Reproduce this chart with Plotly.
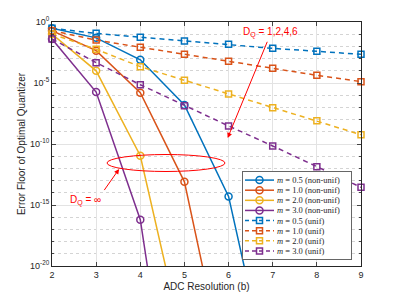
import plotly.graph_objects as go

# ---- data (log10 of error floor) ----
bits = [2, 3, 4, 5, 6, 7, 8, 9]
nonunif_m05 = [-0.52, -1.3, -3.1, -6.8, -14.3, -30.5]
nonunif_m10 = [-0.71, -2.35, -5.8, -13.1, -30.0]
nonunif_m20 = [-0.98, -4.0, -10.96, -26.8]
nonunif_m30 = [-1.39, -5.74, -16.2, -40.0]
unif_m05 = [-0.52, -0.93, -1.25, -1.56, -1.83, -2.16, -2.4, -2.65]
unif_m10 = [-0.71, -1.48, -2.07, -2.65, -3.22, -3.8, -4.37, -4.89]
unif_m20 = [-0.98, -2.24, -3.66, -4.78, -5.9, -7.02, -8.1, -9.24]
unif_m30 = [-1.39, -3.33, -5.14, -6.86, -8.52, -10.16, -11.86, -13.55]
m_labels = ["0.5", "1.0", "2.0", "3.0"]
colors = ["#0072BD", "#D95319", "#EDB120", "#7E2F8E"]
y_tick_exps = [0, -5, -10, -15, -20]
x_ticks = [2, 3, 4, 5, 6, 7, 8, 9]

nonunif = [nonunif_m05, nonunif_m10, nonunif_m20, nonunif_m30]
unif = [unif_m05, unif_m10, unif_m20, unif_m30]

DASH = "5px,4px"
TXT = "#262626"
RED = "#FF0000"

# page has an 8px body margin; target plot area in page pixels: x 52..361, y 22..266
OFF = 8
W, H = 399 - OFF, 299 - OFF
PL, PR, PT, PB = 52, 361, 22, 266
L, R, T, B = PL - OFF, (W + OFF) - PR, PT - OFF, (H + OFF) - PB
pw, ph = PR - PL, PB - PT


def px_to_paper_x(px):
    return (px - PL) / pw


def px_to_paper_y(py):
    return (PB - py) / ph


fig = go.Figure()
for vals, c in zip(nonunif, colors):
    fig.add_trace(go.Scatter(
        x=bits[:len(vals)], y=[10 ** v for v in vals], mode="lines+markers",
        line=dict(color=c, width=1.5), cliponaxis=False,
        marker=dict(symbol="circle-open", size=7, color=c, line=dict(width=1.5)),
        showlegend=False, xaxis="x", yaxis="y"))
for vals, c in zip(unif, colors):
    fig.add_trace(go.Scatter(
        x=bits[:len(vals)], y=[10 ** v for v in vals], mode="lines+markers",
        line=dict(color=c, width=1.5, dash=DASH), cliponaxis=False,
        marker=dict(symbol="square-open", size=6, color=c, line=dict(width=1.5)),
        showlegend=False, xaxis="x", yaxis="y"))

# ---- compact legend drawn in an inset axes (MATLAB-style box) ----
rows = 8
for i in range(rows):
    c = colors[i % 4]
    yy = rows - 1 - i
    if i < 4:
        line = dict(color=c, width=1.5)
        marker = dict(symbol="circle-open", size=7, color=c, line=dict(width=1.5))
        label = "<i>m</i> = %s (non-unif)" % m_labels[i % 4]
    else:
        line = dict(color=c, width=1.5, dash="4px,3px")
        marker = dict(symbol="square-open", size=6, color=c, line=dict(width=1.5))
        label = "<i>m</i> = %s (unif)" % m_labels[i % 4]
    fig.add_trace(go.Scatter(x=[2, 31], y=[yy, yy], mode="lines", line=line,
                             showlegend=False, xaxis="x2", yaxis="y2", hoverinfo="skip"))
    fig.add_trace(go.Scatter(x=[16.5], y=[yy], mode="markers", marker=marker,
                             showlegend=False, xaxis="x2", yaxis="y2", hoverinfo="skip"))
    fig.add_annotation(x=32, y=yy, xref="x2", yref="y2", text=label,
                       showarrow=False, xanchor="left", yanchor="middle",
                       font=dict(family="Liberation Serif", size=8.5, color=TXT))

fig.update_layout(
    width=W, height=H,
    margin=dict(l=L, r=R, t=T, b=B, autoexpand=False),
    paper_bgcolor="white", plot_bgcolor="white",
    font=dict(family="Liberation Sans", size=9, color=TXT),
    xaxis=dict(range=[2, 9], tickvals=x_ticks, ticks="inside", ticklen=4,
               showline=True, linecolor=TXT, linewidth=1, mirror="ticks",
               showgrid=True, gridcolor="#e3e3e3", gridwidth=1, zeroline=False,
               tickfont=dict(size=9, color=TXT),
               title=dict(text="ADC Resolution (b)", font=dict(size=10, color=TXT),
                          standoff=4),
               domain=[0, 1]),
    yaxis=dict(type="log", range=[-20, 0],
               tickvals=[10 ** e for e in y_tick_exps],
               ticktext=["10<sup>%d</sup>" % e for e in y_tick_exps],
               ticks="inside", ticklen=4,
               showline=True, linecolor=TXT, linewidth=1, mirror="ticks",
               showgrid=True, gridcolor="#e3e3e3", gridwidth=1, zeroline=False,
               tickfont=dict(size=9, color=TXT),
               minor=dict(tickvals=[10 ** (-k) for k in range(1, 20) if k % 5 != 0],
                          ticks="inside", ticklen=2, showgrid=True,
                          gridcolor="#d4d4d4", griddash="dot", gridwidth=1),
               title=dict(text="Error Floor of Optimal Quantizer",
                          font=dict(size=10, color=TXT), standoff=2),
               domain=[0, 1]),
    xaxis2=dict(range=[0, 108], anchor="y2",
                domain=[px_to_paper_x(243), px_to_paper_x(351)],
                showline=True, mirror=True, linecolor="#666", linewidth=1,
                showgrid=False, zeroline=False, showticklabels=False, ticks=""),
    yaxis2=dict(range=[-0.8, 7.8], anchor="x2",
                domain=[px_to_paper_y(259), px_to_paper_y(172)],
                showline=True, mirror=True, linecolor="#666", linewidth=1,
                showgrid=False, zeroline=False, showticklabels=False, ticks=""),
)

# ---- ellipse and arrows ----
fig.add_shape(type="circle", xref="paper", yref="paper",
              x0=px_to_paper_x(107), x1=px_to_paper_x(225),
              y0=px_to_paper_y(171.5), y1=px_to_paper_y(154.5),
              line=dict(color=RED, width=1))
fig.add_annotation(x=5.98, y=-9.5, ax=6.89, ay=-1.5, xref="x", yref="y",
                   axref="x", ayref="y", showarrow=True, arrowhead=2, arrowsize=1,
                   arrowwidth=1, arrowcolor=RED, text="")
fig.add_annotation(x=6.95, y=-0.85, xref="x", yref="y", showarrow=False,
                   text="D<sub>Q</sub> = 1,2,4,6",
                   font=dict(size=10, color=RED))
fig.add_annotation(x=3.52, y=-12.05, ax=3.16, ay=-13.9, xref="x", yref="y",
                   axref="x", ayref="y", showarrow=True, arrowhead=2, arrowsize=1,
                   arrowwidth=1, arrowcolor=RED, text="")
fig.add_annotation(x=2.75, y=-14.6, xref="x", yref="y", showarrow=False,
                   text="D<sub>Q</sub> = ∞",
                   font=dict(size=10, color=RED))

fig.write_html("out.html")
